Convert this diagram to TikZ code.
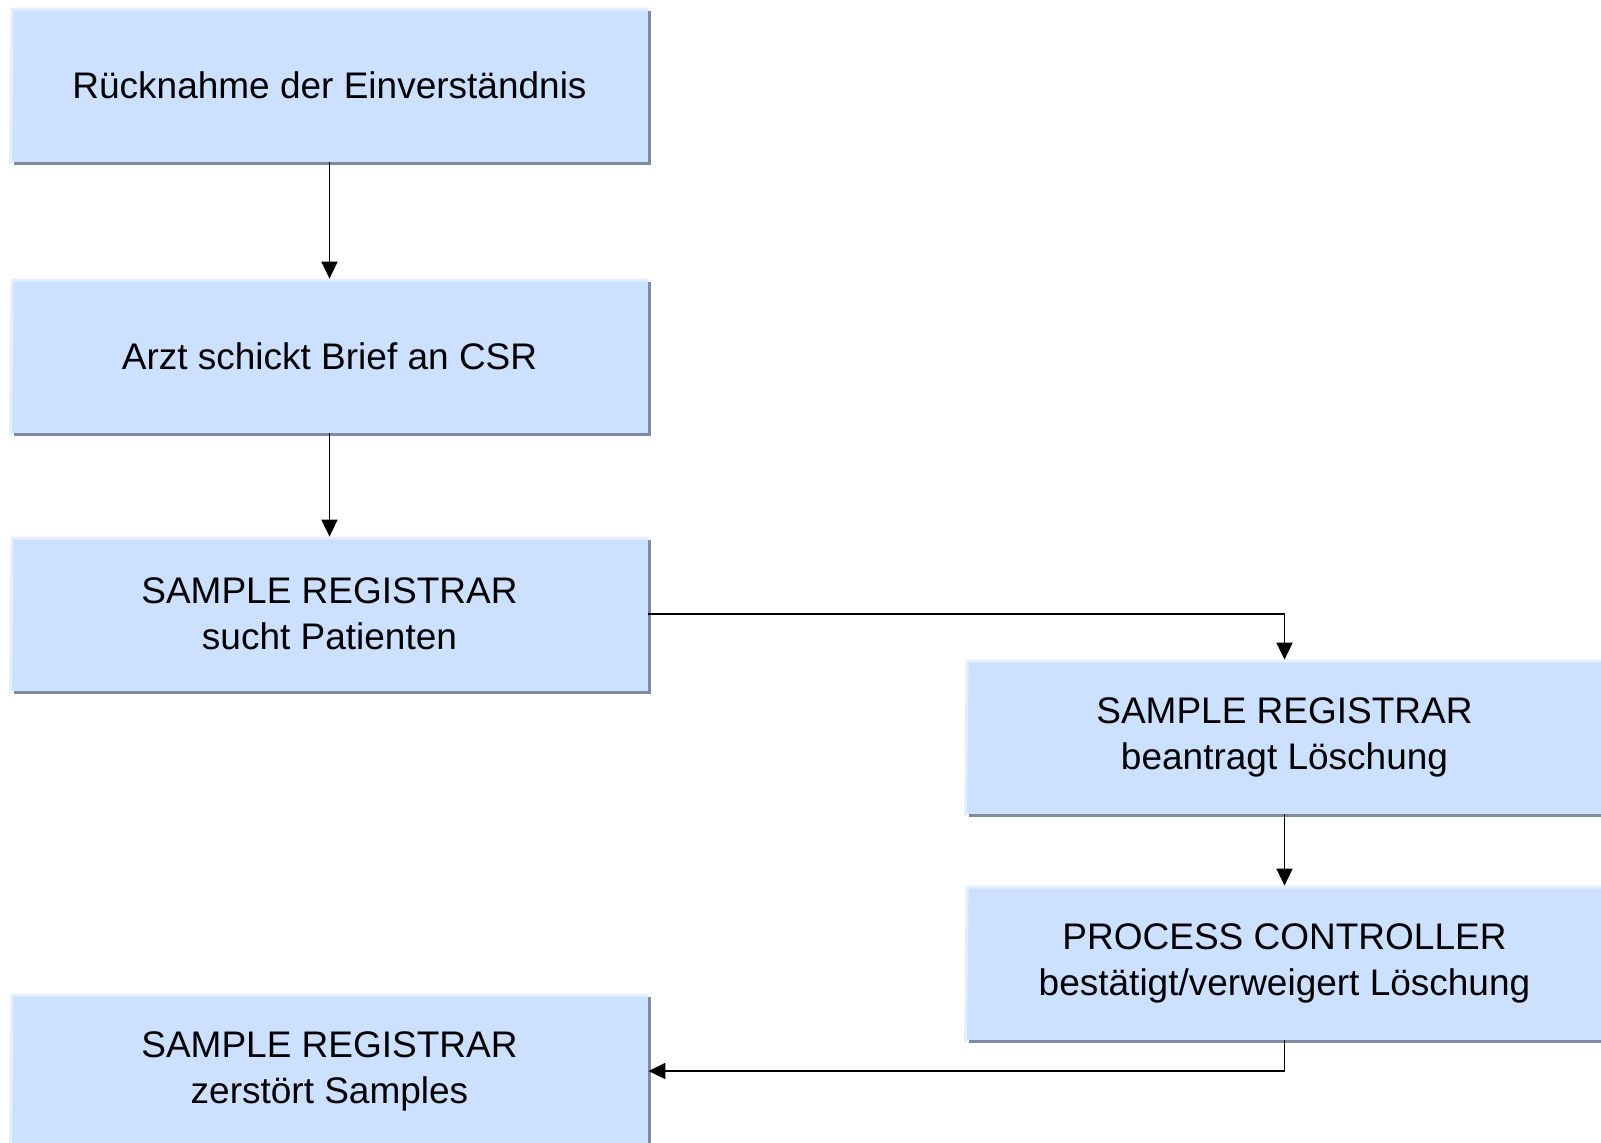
\documentclass[tikz,border=0pt]{standalone}
\usepackage{fontspec}
\setmainfont{Liberation Sans}
\usetikzlibrary{arrows.meta,shadows}
\definecolor{boxfill}{HTML}{CCE0FF}
\definecolor{boxedge}{HTML}{E3EEFF}
\definecolor{boxshadow}{HTML}{7F8BA0}
\tikzset{
  stepbox/.style={fill=boxfill, inner sep=0pt, minimum width=318.5pt, minimum height=77pt,
    align=center, font=\fontsize{18.5}{23}\selectfont,
    drop shadow={shadow xshift=1.5pt, shadow yshift=-1.5pt, fill=boxshadow, opacity=1}},
  flow/.style={draw=black, line width=0.9pt, -{Triangle[length=8.5pt,width=8pt]}}
}
\begin{document}
\begin{tikzpicture}[x=0.5pt,y=-0.5pt]
\useasboundingbox (0,0) rectangle (1601,1142);
\clip (0,0) rectangle (1601,1142);
\fill[white] (0,0) rectangle (1601,1142);
% left column
\node[stepbox] (B1) at (329.5,85) {Rücknahme der Einverständnis};
\node[stepbox] (B2) at (329.5,356) {Arzt schickt Brief an CSR};
\node[stepbox] (B3) at (329.5,614) {SAMPLE REGISTRAR\\sucht Patienten};
\node[stepbox] (B6) at (329.5,1071) {SAMPLE REGISTRAR\\zerstört Samples};
% right column
\node[stepbox] (B4) at (1284.5,737) {SAMPLE REGISTRAR\\beantragt Löschung};
\node[stepbox] (B5) at (1284.5,963) {PROCESS CONTROLLER\\bestätigt/verweigert Löschung};
% light top and left edges
\foreach \n in {B1,B2,B3,B4,B5,B6} {
  \draw[boxedge, line width=1.5pt] ([yshift=-0.75pt]\n.south west) -- ([xshift=0.75pt,yshift=-0.75pt]\n.north west) -- ([yshift=-0.75pt]\n.north east);
}
% connectors
\draw[flow] (B1) -- (B2);
\draw[flow] (B2) -- (B3);
\draw[flow] (B3.east) -| (B4.north);
\draw[flow] (B4) -- (B5);
\draw[flow] (B5.south) |- (B6.east);
\end{tikzpicture}
\end{document}
